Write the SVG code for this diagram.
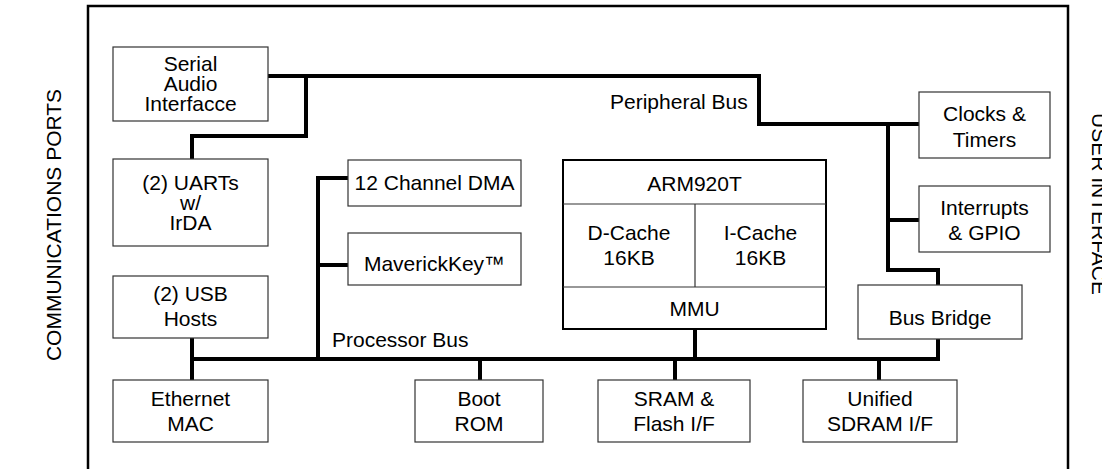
<svg xmlns="http://www.w3.org/2000/svg" width="1102" height="469" viewBox="0 0 1102 469">
<style>
text{font-family:"Liberation Sans",Arial,Helvetica,sans-serif;font-size:21px;fill:#000;text-anchor:middle}
.box{fill:#fff;stroke:#333;stroke-width:1.2}
.cpu{fill:#fff;stroke:#000;stroke-width:2}
.div{fill:none;stroke:#333;stroke-width:1.2}
.bus{fill:none;stroke:#000;stroke-width:4;stroke-linejoin:miter}
.side{font-size:21px}
.lbl{text-anchor:start}
</style>
<rect x="0" y="0" width="1102" height="469" fill="#fff"/>
<rect id="frame" x="88" y="6" width="980" height="475" fill="none" stroke="#000" stroke-width="2.5"/>
<text class="side" transform="translate(61,225) rotate(-90)">COMMUNICATIONS PORTS</text>
<text class="side" transform="translate(1092,204) rotate(90)">USER INTERFACE</text>
<g id="connectors">
<path class="bus" d="M268,76 H759 V124 H919"/>
<path class="bus" d="M306,76 V136 H192 V159"/>
<path class="bus" d="M888,124 V270 H938 V285"/>
<path class="bus" d="M888,220 H919"/>
<path class="bus" d="M938,339 V359 H192"/>
<path class="bus" d="M192,338 V380"/>
<path class="bus" d="M348,178 H318 V359"/>
<path class="bus" d="M318,265 H348"/>
<path class="bus" d="M695,329 V359"/>
<path class="bus" d="M480,359 V380"/>
<path class="bus" d="M675,359 V380"/>
<path class="bus" d="M879,359 V380"/>
</g>
<text class="lbl" x="610" y="109">Peripheral Bus</text>
<text class="lbl" x="332" y="347">Processor Bus</text>
<g id="serial-audio"><rect class="box" x="113" y="47" width="155" height="74"/><text x="190.5" y="71">Serial</text><text x="190.5" y="91">Audio</text><text x="190.5" y="111">Interfacce</text></g>
<g id="uarts"><rect class="box" x="113" y="159" width="155" height="87"/><text x="190.5" y="190">(2) UARTs</text><text x="190.5" y="210">w/</text><text x="190.5" y="230">IrDA</text></g>
<g id="usb"><rect class="box" x="113" y="276" width="155" height="62"/><text x="190.5" y="301">(2) USB</text><text x="190.5" y="326">Hosts</text></g>
<g id="ethernet"><rect class="box" x="113" y="380" width="155" height="62"/><text x="190.5" y="406">Ethernet</text><text x="190.5" y="431">MAC</text></g>
<g id="dma"><rect class="box" x="348" y="160" width="173" height="46"/><text x="434.5" y="190">12 Channel DMA</text></g>
<g id="maverickkey"><rect class="box" x="348" y="233" width="173" height="52"/><text x="434.5" y="271">MaverickKey™</text></g>
<g id="arm920t"><rect class="cpu" x="563" y="160" width="263" height="169"/><line class="div" x1="563" y1="204" x2="826" y2="204"/><line class="div" x1="695" y1="204" x2="695" y2="287"/><line class="div" x1="563" y1="287" x2="826" y2="287"/><text x="694.5" y="191">ARM920T</text><text x="629" y="240">D-Cache</text><text x="629" y="265">16KB</text><text x="760.5" y="240">I-Cache</text><text x="760.5" y="265">16KB</text><text x="694.5" y="316">MMU</text></g>
<g id="clocks"><rect class="box" x="919" y="92" width="131" height="66"/><text x="984.5" y="121">Clocks &amp;</text><text x="984.5" y="147">Timers</text></g>
<g id="interrupts"><rect class="box" x="919" y="186" width="131" height="66"/><text x="984.5" y="215">Interrupts</text><text x="984.5" y="240">&amp; GPIO</text></g>
<g id="bus-bridge"><rect class="box" x="858" y="285" width="164" height="54"/><text x="940" y="325">Bus Bridge</text></g>
<g id="boot-rom"><rect class="box" x="415" y="380" width="128" height="62"/><text x="479" y="406">Boot</text><text x="479" y="431">ROM</text></g>
<g id="sram"><rect class="box" x="598" y="380" width="152" height="62"/><text x="674" y="406">SRAM &amp;</text><text x="674" y="431">Flash I/F</text></g>
<g id="sdram"><rect class="box" x="803" y="380" width="154" height="62"/><text x="880" y="406">Unified</text><text x="880" y="431">SDRAM I/F</text></g>
</svg>
